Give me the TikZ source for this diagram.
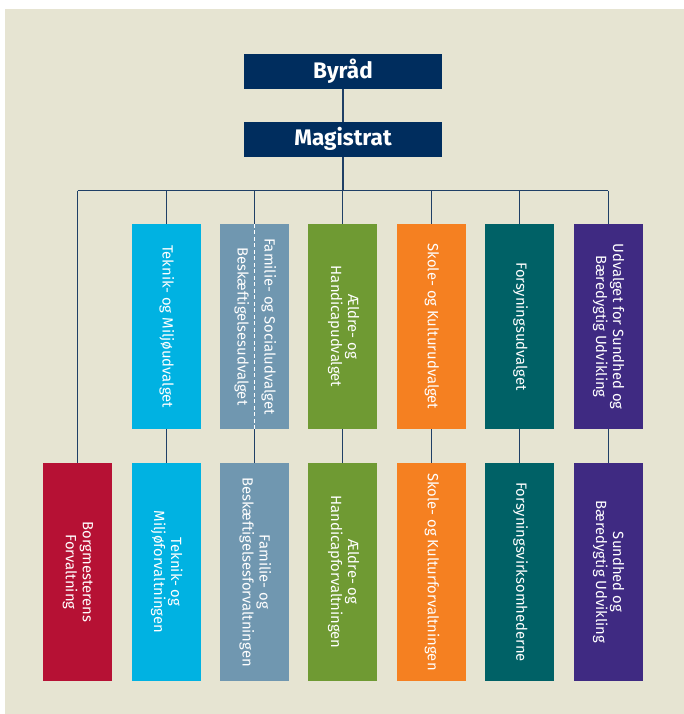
\documentclass[tikz,border=0pt]{standalone}
\usepackage{graphicx}
\usepackage{fontspec}
\setmainfont{Fira Sans}
\definecolor{bgc}{HTML}{E6E4D2}
\definecolor{navy}{HTML}{002D5E}
\definecolor{linec}{HTML}{1F3F66}
\definecolor{cyanc}{HTML}{00B2E2}
\definecolor{greyb}{HTML}{7097B0}
\definecolor{greenc}{HTML}{6F9A33}
\definecolor{orangec}{HTML}{F58021}
\definecolor{tealc}{HTML}{006166}
\definecolor{purplec}{HTML}{3F2A82}
\definecolor{redc}{HTML}{B61134}
\newcommand{\vtext}[1]{\rotatebox{-90}{\begin{tabular}{@{}c@{}}#1\end{tabular}}}
\begin{document}
\begin{tikzpicture}[x=1pt,y=-1pt,
  topbox/.style={draw=none, fill=navy, text=white, minimum width=198pt, minimum height=34.5pt, inner sep=0pt, font=\fontsize{22.5}{26}\selectfont\bfseries},
  upbox/.style={fill=#1, text=white, minimum width=69pt, minimum height=205pt, inner sep=0pt, font=\fontsize{14.8}{17}\selectfont},
  lowbox/.style={fill=#1, text=white, minimum width=69pt, minimum height=218pt, inner sep=0pt, font=\fontsize{14.8}{17}\selectfont},
  conn/.style={draw=linec, line width=1.1pt}
]
\useasboundingbox (0,0) rectangle (684,714);
\fill[bgc] (5,9) rectangle (684,714);
\node[topbox] (byraad) at (343,71.3) {Byråd};
\node[topbox] (magistrat) at (343,139.3) {Magistrat};
% top row
\node[upbox=cyanc] (t1) at (166.1,326.5) {\vtext{Teknik- og Miljøudvalget}};
\node[upbox=greyb] (t2) at (254.5,326.5) {\vtext{Familie- og Socialudvalget\\[10pt]Beskæftigelsesudvalget}};
\node[upbox=greenc] (t3) at (342.9,326.5) {\vtext{Ældre- og\\Handicapudvalget}};
\node[upbox=orangec] (t4) at (431.3,326.5) {\vtext{Skole- og Kulturudvalget}};
\node[upbox=tealc] (t5) at (519.7,326.5) {\vtext{Forsyningsudvalget}};
\node[upbox=purplec] (t6) at (608.1,326.5) {\vtext{Udvalget for Sundhed og\\Bæredygtig Udvikling}};
% bottom row
\node[lowbox=redc] (b0) at (77.7,572) {\vtext{Borgmesterens\\Forvaltning}};
\node[lowbox=cyanc] (b1) at (166.1,572) {\vtext{Teknik- og\\Miljøforvaltningen}};
\node[lowbox=greyb] (b2) at (254.5,572) {\vtext{Familie- og\\Beskæftigelsesforvaltningen}};
\node[lowbox=greenc] (b3) at (342.9,572) {\vtext{Ældre- og\\Handicapforvaltningen}};
\node[lowbox=orangec] (b4) at (431.3,572) {\vtext{Skole- og Kulturforvaltningen}};
\node[lowbox=tealc] (b5) at (519.7,572) {\vtext{Forsyningsvirksomhederne}};
\node[lowbox=purplec] (b6) at (608.1,572) {\vtext{Sundhed og\\Bæredygtig Udvikling}};
% connectors
\coordinate (barL) at (77.7,190.7);
\coordinate (barR) at (608.1,190.7);
\draw[conn] (byraad) -- (magistrat);
\draw[conn] (magistrat.south) -- (magistrat.south |- barL);
\draw[conn] (barL) -- (barR);
\draw[conn] (barL) -- (b0.north);
\foreach \i in {1,...,6}{
  \draw[conn] (t\i.north |- barL) -- (t\i.north);
  \draw[conn] (t\i.south) -- (b\i.north);
}
\draw[white, line width=1pt, dash pattern=on 4pt off 2.5pt] (t2.north) -- (t2.south);
\end{tikzpicture}
\end{document}
